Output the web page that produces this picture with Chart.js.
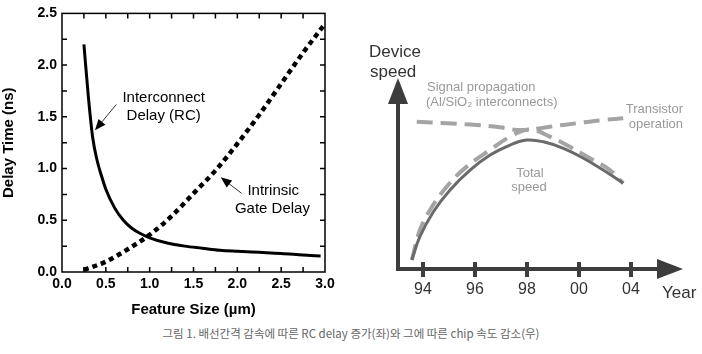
<!DOCTYPE html>
<html>
<head>
<meta charset="utf-8">
<script src="https://cdn.jsdelivr.net/npm/chart.js@4.4.1/dist/chart.umd.min.js"></script>
<style>
  body { margin: 0; background: #fff; width: 702px; height: 354px; overflow: hidden; position: relative; }
  canvas { position: absolute; top: 0; }
  #left { left: 0; }
  #right { left: 350px; }
  #cap { position: absolute; left: 0; top: 325px; width: 702px; text-align: center;
         font: 11.5px "Noto Sans CJK KR", sans-serif; color: #666; }
</style>
</head>
<body>
<canvas id="left" width="340" height="320"></canvas>
<canvas id="right" width="352" height="320"></canvas>
<div id="cap">그림 1. 배선간격 감속에 따른 RC delay 증가(좌)와 그에 따른 chip 속도 감소(우)</div>
<script>
// left chart: delay vs feature size
var rcSize  = [0.25, 0.3, 0.35, 0.4, 0.45, 0.5, 0.6, 0.7, 0.8, 0.9, 1.0, 1.2, 1.4, 1.6, 1.8, 2.0, 2.25, 2.5, 2.75, 2.95];
var rcDelay = [2.2, 1.7, 1.3, 1.08, 0.93, 0.8, 0.62, 0.5, 0.42, 0.37, 0.33, 0.28, 0.25, 0.23, 0.21, 0.2, 0.19, 0.18, 0.165, 0.155];
var gateSize  = [0.25, 0.5, 0.75, 1.0, 1.25, 1.5, 1.75, 2.0, 2.25, 2.5, 2.75, 3.0];
var gateDelay = [0.02, 0.1, 0.22, 0.36, 0.54, 0.76, 0.98, 1.24, 1.52, 1.82, 2.12, 2.4];
var sizeTicks  = [0, 0.5, 1.0, 1.5, 2.0, 2.5, 3.0];
var delayTicks = [0, 0.5, 1.0, 1.5, 2.0, 2.5];

// right chart: device speed vs year (schematic)
var sigYear  = [93.57, 93.88, 94.27, 94.91, 95.68, 96.58, 97.35, 98.12, 98.88, 99.65, 100.42, 101.19, 101.7];
var sigSpeed = [0.47, 2.04, 3.09, 4.31, 5.36, 6.23, 6.93, 7.31, 6.93, 6.4, 5.8, 5.18, 4.49];
var trYear  = [93.76, 94.91, 96.07, 96.96, 97.6, 98.18, 98.88, 99.91, 100.93, 101.7];
var trSpeed = [7.71, 7.63, 7.54, 7.42, 7.28, 7.31, 7.45, 7.63, 7.8, 7.89];
var totYear  = [93.57, 93.88, 94.4, 95.04, 95.81, 96.58, 97.35, 97.99, 98.63, 99.4, 100.17, 100.93, 101.7];
var totSpeed = [0.47, 1.69, 3.0, 4.14, 5.18, 5.97, 6.49, 6.75, 6.66, 6.32, 5.8, 5.18, 4.49];
var yearTicks  = [94, 96, 98, 100, 102];
var yearLabels = ['94', '96', '98', '00', '04'];

var FONT = '"Liberation Sans", Arial, sans-serif';

function pts(xs, ys) {
    return xs.map(function(x, i) { return { x: x, y: ys[i] }; });
}

function arrow(ctx, x1, y1, x2, y2, len, half) {
    var a = Math.atan2(y2 - y1, x2 - x1);
    ctx.beginPath();
    ctx.moveTo(x1, y1);
    ctx.lineTo(x2 - Math.cos(a) * len * 0.8, y2 - Math.sin(a) * len * 0.8);
    ctx.stroke();
    ctx.beginPath();
    ctx.moveTo(x2, y2);
    ctx.lineTo(x2 - Math.cos(a) * len - Math.sin(a) * half, y2 - Math.sin(a) * len + Math.cos(a) * half);
    ctx.lineTo(x2 - Math.cos(a) * len + Math.sin(a) * half, y2 - Math.sin(a) * len - Math.cos(a) * half);
    ctx.closePath();
    ctx.fill();
}

var boldFont = { family: FONT, size: 14, weight: 'bold' };

// box, inner ticks and annotations of the left chart
var leftDeco = {
    id: 'leftDeco',
    afterDraw: function(chart) {
        var ctx = chart.ctx, a = chart.chartArea;
        var xs = chart.scales.x, ys = chart.scales.y;
        ctx.save();
        ctx.strokeStyle = '#000';
        ctx.lineWidth = 1.5;
        ctx.strokeRect(a.left, a.top, a.right - a.left, a.bottom - a.top);
        ctx.beginPath();
        for (var v = 0.25; v < 3; v += 0.25) {
            var px = xs.getPixelForValue(v);
            ctx.moveTo(px, a.bottom); ctx.lineTo(px, a.bottom - 5);
            ctx.moveTo(px, a.top); ctx.lineTo(px, a.top + 5);
        }
        for (var w = 0.25; w < 2.5; w += 0.25) {
            var py = ys.getPixelForValue(w);
            ctx.moveTo(a.left, py); ctx.lineTo(a.left + 5, py);
            ctx.moveTo(a.right, py); ctx.lineTo(a.right - 5, py);
        }
        ctx.stroke();

        ctx.fillStyle = '#000';
        ctx.font = '15px ' + FONT;
        ctx.textAlign = 'center';
        ctx.textBaseline = 'middle';
        ctx.fillText('Interconnect', xs.getPixelForValue(1.16), ys.getPixelForValue(1.68));
        ctx.fillText('Delay (RC)', xs.getPixelForValue(1.16), ys.getPixelForValue(1.51));
        ctx.fillText('Intrinsic', xs.getPixelForValue(2.41), ys.getPixelForValue(0.78));
        ctx.fillText('Gate Delay', xs.getPixelForValue(2.40), ys.getPixelForValue(0.61));

        ctx.strokeStyle = '#333';
        ctx.fillStyle = '#000';
        ctx.lineWidth = 1;
        arrow(ctx, xs.getPixelForValue(0.62), ys.getPixelForValue(1.62),
                   xs.getPixelForValue(0.376), ys.getPixelForValue(1.37), 11, 4.5);
        arrow(ctx, xs.getPixelForValue(2.05), ys.getPixelForValue(0.76),
                   xs.getPixelForValue(1.81), ys.getPixelForValue(0.915), 11, 4.5);
        ctx.restore();
    }
};

new Chart(document.getElementById('left'), {
    type: 'line',
    data: {
        datasets: [{
            label: 'Interconnect Delay (RC)',
            data: pts(rcSize, rcDelay),
            borderColor: '#000',
            borderWidth: 3,
            pointRadius: 0,
            cubicInterpolationMode: 'monotone'
        }, {
            label: 'Intrinsic Gate Delay',
            data: pts(gateSize, gateDelay),
            borderColor: '#000',
            borderWidth: 4.5,
            borderDash: [5, 4],
            pointRadius: 0,
            cubicInterpolationMode: 'monotone'
        }]
    },
    options: {
        responsive: false,
        animation: false,
        devicePixelRatio: 1,
        layout: { padding: { top: 7, right: 15 } },
        plugins: { legend: { display: false }, tooltip: { enabled: false } },
        scales: {
            x: {
                type: 'linear', min: 0, max: 3,
                afterFit: function(s) { s.height = 48; },
                afterBuildTicks: function(s) { s.ticks = sizeTicks.map(function(v) { return { value: v }; }); },
                grid: { display: false, drawTicks: false },
                border: { display: false },
                ticks: { padding: 4, color: '#000', font: boldFont, maxRotation: 0, autoSkip: false,
                         callback: function(v) { return v.toFixed(1); } },
                title: { display: true, text: 'Feature Size (µm)', color: '#000',
                         font: { family: FONT, size: 15, weight: 'bold' }, padding: { top: 0, bottom: 1 } }
            },
            y: {
                type: 'linear', min: 0, max: 2.5,
                afterFit: function(s) { s.width = 62; },
                afterBuildTicks: function(s) { s.ticks = delayTicks.map(function(v) { return { value: v }; }); },
                grid: { display: false, drawTicks: false },
                border: { display: false },
                ticks: { padding: 5, color: '#000', font: boldFont, autoSkip: false,
                         callback: function(v) { return v.toFixed(1); } },
                title: { display: true, text: 'Delay Time (ns)', color: '#000',
                         font: { family: FONT, size: 15, weight: 'bold' }, padding: { top: 0, bottom: 1 } }
            }
        }
    },
    plugins: [leftDeco]
});

// arrows, year ticks and labels of the right chart
var rightDeco = {
    id: 'rightDeco',
    afterDatasetsDraw: function(chart) {
        var ctx = chart.ctx, a = chart.chartArea;
        var xs = chart.scales.x;
        var ox = a.left + 1, oy = a.bottom;
        ctx.save();
        ctx.strokeStyle = '#3d3d3d';
        ctx.fillStyle = '#3d3d3d';
        ctx.lineWidth = 4;
        ctx.lineCap = 'butt';
        arrow(ctx, ox, oy + 2, ox, a.top, 26, 10);
        arrow(ctx, ox - 2, oy, a.right, oy, 26, 10);
        ctx.beginPath();
        yearTicks.forEach(function(y) {
            var px = xs.getPixelForValue(y);
            ctx.moveTo(px, oy - 7); ctx.lineTo(px, oy + 8);
        });
        ctx.stroke();

        ctx.fillStyle = '#333';
        ctx.textBaseline = 'middle';
        ctx.textAlign = 'center';
        ctx.font = '16px ' + FONT;
        yearTicks.forEach(function(y, i) {
            ctx.fillText(yearLabels[i], xs.getPixelForValue(y), oy + 21);
        });
        ctx.textAlign = 'left';
        ctx.font = '17px ' + FONT;
        ctx.fillText('Year', a.right - 21, oy + 24);
        ctx.fillText('Device', ox - 29, 52);
        ctx.fillText('speed', ox - 28, 72);

        ctx.fillStyle = '#999';
        ctx.font = '13px ' + FONT;
        ctx.fillText('Signal propagation', ox + 29, 87);
        ctx.fillText('(Al/SiO\u2082 interconnects)', ox + 28, 102);
        ctx.textAlign = 'right';
        ctx.fillText('Transistor', a.right, 109);
        ctx.fillText('operation', a.right, 124);
        ctx.textAlign = 'center';
        ctx.fillText('Total', ox + 132, 173);
        ctx.fillText('speed', ox + 131, 187);
        ctx.restore();
    }
};

new Chart(document.getElementById('right'), {
    type: 'line',
    data: {
        datasets: [{
            label: 'Total speed',
            data: pts(totYear, totSpeed),
            borderColor: '#6a6a6a',
            borderWidth: 3,
            pointRadius: 0,
            tension: 0.4
        }, {
            label: 'Signal propagation',
            data: pts(sigYear, sigSpeed),
            borderColor: '#a4a4a4',
            borderWidth: 4,
            borderDash: [16, 8],
            pointRadius: 0,
            tension: 0.4
        }, {
            label: 'Transistor operation',
            data: pts(trYear, trSpeed),
            borderColor: '#a4a4a4',
            borderWidth: 4,
            borderDash: [16, 8],
            pointRadius: 0,
            tension: 0.4
        }]
    },
    options: {
        responsive: false,
        animation: false,
        devicePixelRatio: 1,
        layout: { padding: { left: 47, right: 19, top: 78, bottom: 51 } },
        plugins: { legend: { display: false }, tooltip: { enabled: false } },
        scales: {
            x: { type: 'linear', min: 93, max: 104, display: false },
            y: { type: 'linear', min: 0, max: 10, display: false }
        }
    },
    plugins: [rightDeco]
});
</script>
</body>
</html>
